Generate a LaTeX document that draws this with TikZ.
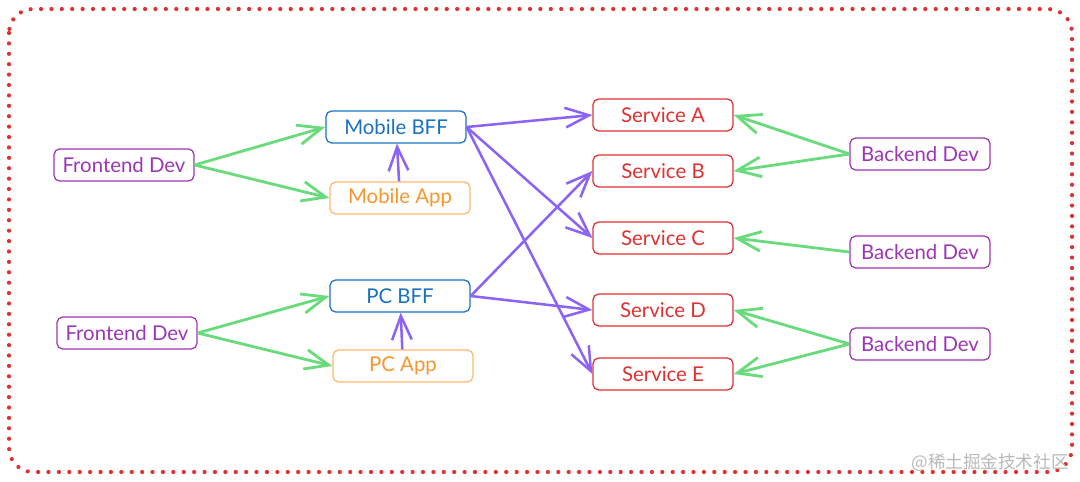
\documentclass[tikz,border=0pt]{standalone}
\usepackage{fontspec}
\setmainfont{Lato}
\newfontfamily\cjk{Noto Sans CJK SC}
\usetikzlibrary{arrows.meta}
\definecolor{devpurple}{HTML}{9C36B5}
\definecolor{bffblue}{HTML}{1971C2}
\definecolor{appedge}{HTML}{FFB870}
\definecolor{apptext}{HTML}{F7962F}
\definecolor{svcred}{HTML}{E03131}
\definecolor{linkgreen}{HTML}{69DB7C}
\definecolor{linkviolet}{HTML}{8B63F7}

\begin{document}
\begin{tikzpicture}[box/.style={draw, rounded corners=4pt, line width=0.9pt, minimum width=3.5cm, minimum height=0.8cm, font=\fontsize{14.5}{16}\selectfont}, dev/.style={box, draw=devpurple, text=devpurple}, bff/.style={box, draw=bffblue, text=bffblue}, app/.style={box, draw=appedge, text=apptext}, svc/.style={box, draw=svcred, text=svcred}, green/.style={->, linkgreen, line width=2pt}, violet/.style={->, linkviolet, line width=1.8pt}, >={Straight Barb[length=17pt,width=14pt]}]
		\useasboundingbox (0,0) rectangle (27,-12.05);
		\draw[svcred, line width=3pt, line cap=round, dash pattern=on 0pt off 7.4pt, rounded corners=0.6cm] (0.225,-0.225) rectangle (26.8,-11.8);

		\node[dev] (1) at (3.1,-4.125) {Frontend Dev};
		\node[bff] (2) at (9.9,-3.175) {Mobile BFF};
		\node[app] (3) at (10.0,-4.95) {Mobile App};
		\node[dev] (4) at (3.175,-8.325) {Frontend Dev};
		\node[bff] (5) at (10.0,-7.4) {PC BFF};
		\node[app] (6) at (10.075,-9.15) {PC App};
		\node[svc] (7) at (16.575,-2.875) {Service A};
		\node[svc] (8) at (16.575,-4.275) {Service B};
		\node[svc] (9) at (16.575,-5.95) {Service C};
		\node[svc] (10) at (16.575,-7.75) {Service D};
		\node[svc] (11) at (16.575,-9.35) {Service E};
		\node[dev] (12) at (23.0,-3.85) {Backend Dev};
		\node[dev] (13) at (23.0,-6.3) {Backend Dev};
		\node[dev] (14) at (23.0,-8.6) {Backend Dev};
		\node[text=gray!55, font=\cjk\fontsize{12.5}{14}\selectfont] (15) at (24.75,-11.575) {@稀土掘金技术社区};

		\draw[green] (1.east) to (2.west);
		\draw[green] (1.east) to (3.west);
		\draw[green] (4.east) to (5.west);
		\draw[green] (4.east) to (6.west);
		\draw[violet] (3) to (2);
		\draw[violet] (6) to (5);
		\draw[violet] (2.east) to (7.west);
		\draw[violet] (2.east) to (9.west);
		\draw[violet] (2.east) to (11.west);
		\draw[violet] (5.east) to (8.west);
		\draw[violet] (5.east) to (10.west);
		\draw[green] (12.west) to (7.east);
		\draw[green] (12.west) to (8.east);
		\draw[green] (13.west) to (9.east);
		\draw[green] (14.west) to (10.east);
		\draw[green] (14.west) to (11.east);

	\end{tikzpicture}
\end{document}
